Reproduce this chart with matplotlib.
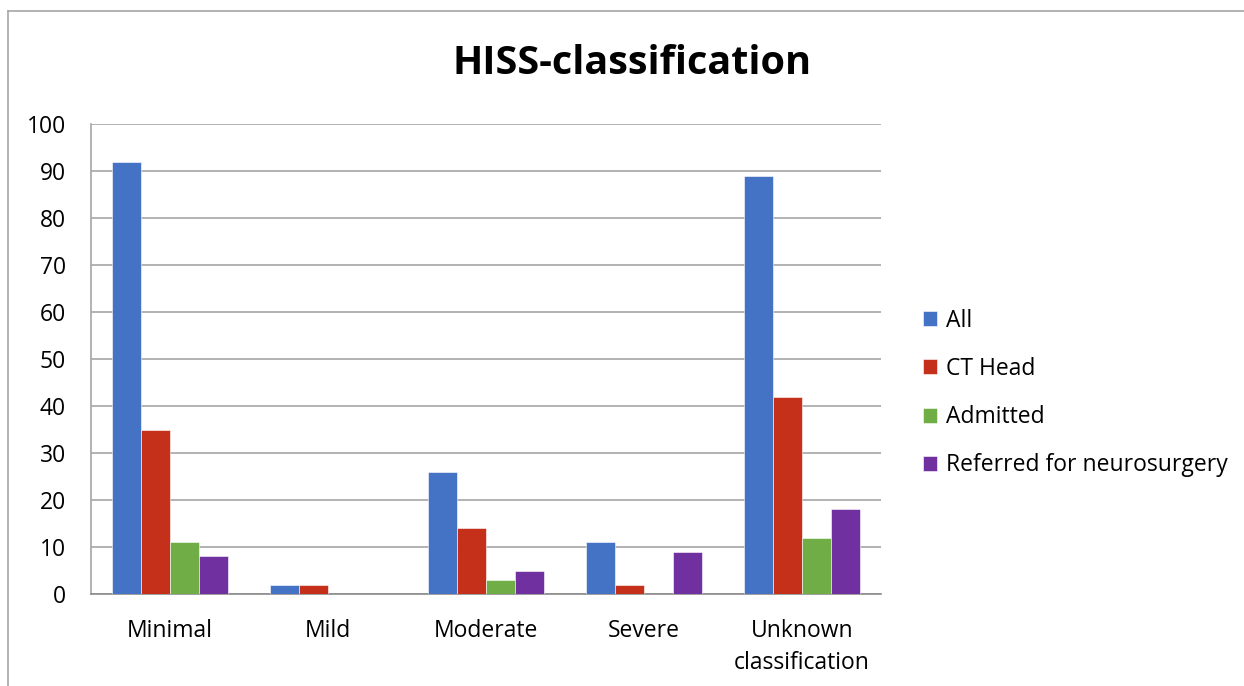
import numpy as np
import matplotlib
matplotlib.use("Agg")
import matplotlib.pyplot as plt
from matplotlib.lines import Line2D

plt.rcParams['font.family'] = ['Open Sans', 'DejaVu Sans']

categories = ["Minimal", "Mild", "Moderate", "Severe", "Unknown\nclassification"]
series_names = ["All", "CT Head", "Admitted", "Referred for neurosurgery"]
all_vals = [92, 2, 26, 11, 89]
ct_head = [35, 2, 14, 2, 42]
admitted = [11, 0, 3, 0, 12]
referred = [8, 0, 5, 9, 18]
colors = ["#4472C4", "#C5301A", "#70AD47", "#7030A0"]

W, H = 1244, 686
fig = plt.figure(figsize=(W / 100, H / 100), dpi=100)
ax = fig.add_axes([91 / W, 1 - 594 / H, 790 / W, 470 / H])

x = np.arange(len(categories))
bw = 0.184
data = [all_vals, ct_head, admitted, referred]
for i, (vals, name) in enumerate(zip(data, series_names)):
    ax.bar(x + (i - 1.5) * bw, vals, bw, color=colors[i], label=name,
           edgecolor="white", linewidth=0.4, zorder=3)

ax.set_xlim(-0.5, len(categories) - 0.5)
ax.set_ylim(0, 100)
ax.set_yticks(range(0, 101, 10))
ax.set_xticks(x)
ax.set_xticklabels(categories, linespacing=1.45, va="top")
ax.yaxis.grid(True, color="#A6A6A6", linewidth=1.2, zorder=0)
ax.tick_params(axis="both", length=0, labelsize=16.5, colors="black")
ax.tick_params(axis="y", pad=18)
ax.tick_params(axis="x", pad=18)
for s in ["top", "right"]:
    ax.spines[s].set_visible(False)
ax.spines["left"].set_color("#A6A6A6")
ax.spines["left"].set_linewidth(1.2)
ax.spines["bottom"].set_color("#8C8C8C")
ax.spines["bottom"].set_linewidth(1.2)
ax.set_axisbelow(True)

fig.text(632 / W, 1 - 63 / H, "HISS-classification", ha="center", va="center",
         fontsize=28.5, fontweight="bold")

fig.legend(loc="center left", bbox_to_anchor=(902 / W, 1 - 393 / H),
           frameon=False, fontsize=16.5, handlelength=0.62, handleheight=0.62,
           handletextpad=0.4, labelspacing=1.06)

# outer chart border
fig.add_artist(Line2D([8 / W, 8 / W], [0, 1 - 11 / H], color="#A6A6A6", linewidth=1.2))
fig.add_artist(Line2D([8 / W, 1], [1 - 11 / H, 1 - 11 / H], color="#A6A6A6", linewidth=1.2))

fig.savefig("out.png", dpi=100)
